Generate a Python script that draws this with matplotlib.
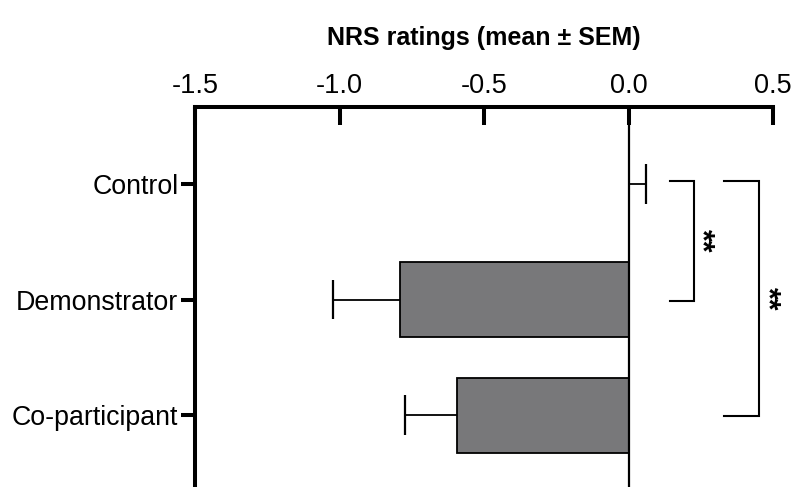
import matplotlib
matplotlib.use("Agg")
import matplotlib.pyplot as plt

plt.rcParams['font.family'] = ['Liberation Sans', 'DejaVu Sans']

categories = ["Control", "Demonstrator", "Co-participant"]
means = [0.0, -0.790, -0.592]
sems = [0.059, 0.231, 0.183]
xticks = [-1.5, -1.0, -0.5, 0.0, 0.5]
xtick_labels = ["-1.5", "-1.0", "-0.5", "0.0", "0.5"]
# significance brackets: (category index a, category index b, label)
comparisons = [(0, 1, "**"), (0, 2, "**")]

fig = plt.figure(figsize=(7.94, 4.87), dpi=100)
ax = fig.add_axes([195/794, 0.0, (773-195)/794, 1 - 107/487])

ypos = list(range(len(categories)))
ax.barh(ypos, means, height=0.65, color='#78787a', edgecolor='black', linewidth=1.3, zorder=2)

# one-sided error bars (away from zero)
for y, m, s in zip(ypos, means, sems):
    end = m - s if m < 0 else m + s
    ax.plot([m, end], [y, y], color='black', lw=1.3, zorder=3, solid_capstyle='butt')
    ax.plot([end, end], [y - 0.17, y + 0.17], color='black', lw=1.6, zorder=3, solid_capstyle='butt')

ax.axvline(0, color='black', lw=1.6, zorder=4)

# brackets
bracket_specs = [(0.145, 0.225, 0.250), (0.332, 0.453, 0.478)]
for (a, b, lab), (x0, x1, xs) in zip(comparisons, bracket_specs):
    ya, yb = a - 0.03, b + 0.01
    ax.plot([x0, x1, x1, x0], [ya, ya, yb, yb], color='black', lw=1.5,
            clip_on=False, solid_joinstyle='miter')
    ax.text(xs, (ya + yb) / 2, lab, rotation=270, ha='center', va='center',
            fontsize=22, fontweight='bold', clip_on=False)

ax.set_xlim(-1.5, 0.5)
ax.set_ylim(2.623, -0.667)
ax.set_yticks(ypos)
ax.set_yticklabels(categories, fontsize=19.3)
ax.set_xticks(xticks)
ax.set_xticklabels(xtick_labels, fontsize=19.5)
ax.xaxis.tick_top()
ax.xaxis.set_label_position('top')
ax.tick_params(axis='x', direction='in', length=13, width=2.9, pad=6)
ax.tick_params(axis='y', direction='out', length=10, width=2.9, pad=2)
ax.set_xlabel("NRS ratings (mean ± SEM)", fontsize=18, fontweight='bold', labelpad=20)

for side in ['right', 'bottom']:
    ax.spines[side].set_visible(False)
for side in ['left', 'top']:
    ax.spines[side].set_linewidth(2.9)

fig.savefig("out.png", dpi=100)
